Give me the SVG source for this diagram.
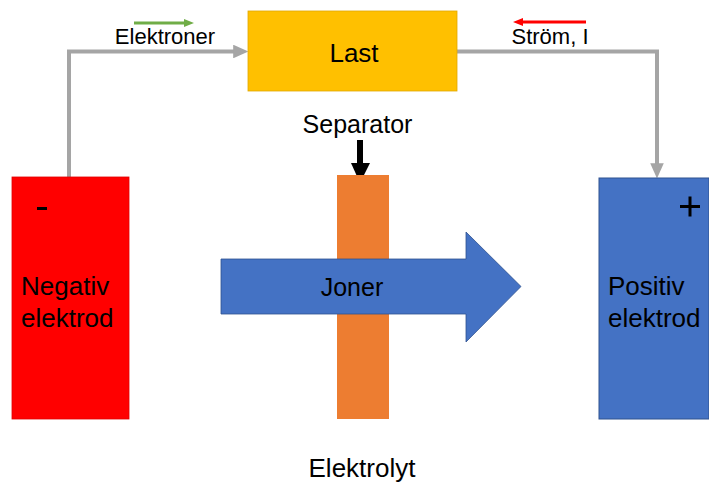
<svg xmlns="http://www.w3.org/2000/svg" width="709" height="483" viewBox="0 0 709 483">
  <style>
    text { font-family: "Liberation Sans", Arial, sans-serif; fill: #000; }
    .wire { fill: none; stroke: #A5A5A5; stroke-width: 4; }
    .mid { text-anchor: middle; }
  </style>
  <defs>
    <marker id="grayHead" markerWidth="4" markerHeight="3.4" refX="0.2" refY="1.7" orient="auto" markerUnits="strokeWidth">
      <path d="M0,0 L3.8,1.7 L0,3.4 Z" fill="#A5A5A5"/>
    </marker>
  </defs>
  <rect width="709" height="483" fill="#FFFFFF"/>

  <!-- external circuit wires -->
  <g id="connectors">
    <path class="wire" d="M69,178 V51.5 H234" marker-end="url(#grayHead)"/>
    <path class="wire" d="M457,51.5 H657 V164" marker-end="url(#grayHead)"/>
    <!-- direction indicators -->
    <line x1="134" y1="23" x2="185" y2="23" stroke="#70AD47" stroke-width="3"/>
    <polygon points="184,19 194,23 184,27" fill="#70AD47"/>
    <line x1="586" y1="22" x2="522" y2="22" stroke="#FF0000" stroke-width="3"/>
    <polygon points="523,18 513,22 523,26" fill="#FF0000"/>
    <!-- separator pointer -->
    <line x1="360" y1="140" x2="360" y2="165" stroke="#000" stroke-width="6"/>
    <polygon points="351,163 370,163 360,183" fill="#000"/>
  </g>

  <text x="165" y="44" class="mid" font-size="22">Elektroner</text>
  <text x="550" y="44" class="mid" font-size="22">Ström, I</text>

  <g id="load">
    <rect x="248" y="11" width="209" height="80" fill="#FFC000" stroke="#E0A800" stroke-width="0.8"/>
    <text x="354" y="62" class="mid" font-size="26">Last</text>
  </g>

  <g id="negative-electrode">
    <rect x="12" y="177" width="117" height="242" fill="#FF0000" stroke="#E00000" stroke-width="0.8"/>
    <rect x="37" y="207" width="10" height="3" fill="#000"/>
    <text x="21" y="295" font-size="26">Negativ</text>
    <text x="21" y="327" font-size="26">elektrod</text>
  </g>

  <g id="separator">
    <rect x="337" y="175" width="52" height="244" fill="#ED7D31"/>
    <text x="357.5" y="133" class="mid" font-size="25">Separator</text>
  </g>

  <g id="ions">
    <path d="M221,259 H466 V232 L521,286.5 L466,342 V314 H221 Z" fill="#4472C4" stroke="#2F528F" stroke-width="0.8"/>
    <text x="352" y="296" class="mid" font-size="25">Joner</text>
  </g>

  <g id="positive-electrode">
    <rect x="599" y="178" width="110" height="241" fill="#4472C4" stroke="#2F528F" stroke-width="1"/>
    <rect x="680" y="205" width="20" height="3" fill="#000"/>
    <rect x="688.5" y="196.5" width="3" height="20" fill="#000"/>
    <text x="608" y="295" font-size="26">Positiv</text>
    <text x="608" y="327" font-size="26">elektrod</text>
  </g>

  <text x="362" y="477" class="mid" font-size="26">Elektrolyt</text>
</svg>
